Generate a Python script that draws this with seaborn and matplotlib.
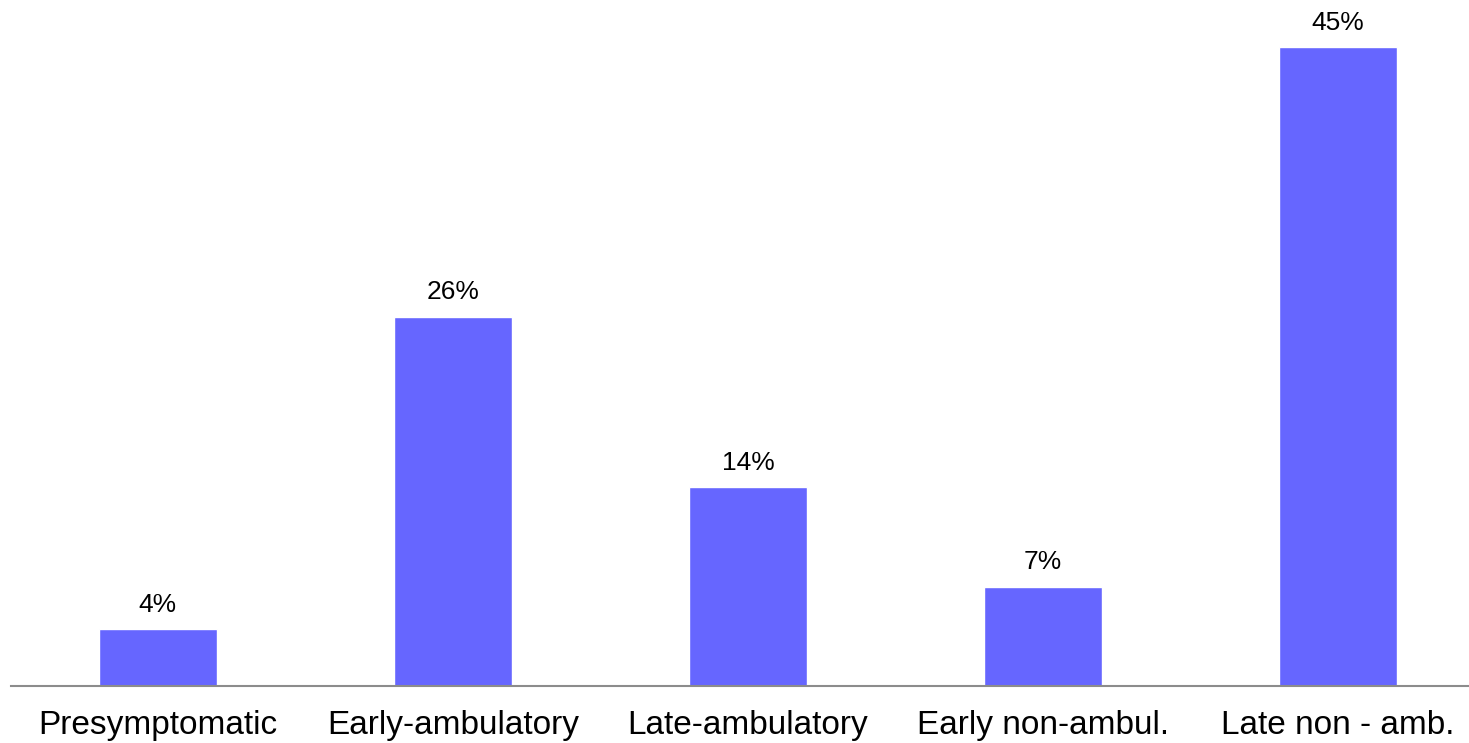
import matplotlib
matplotlib.use("Agg")
import matplotlib.pyplot as plt
import seaborn as sns
import pandas as pd

stages = ["Presymptomatic", "Early-ambulatory", "Late-ambulatory",
          "Early non-ambul.", "Late non - amb."]
shares = [4, 26, 14, 7, 45]

df = pd.DataFrame({"stage": stages, "share": shares})

sns.set_style("white")
plt.rcParams["font.family"] = ["Liberation Sans", "DejaVu Sans"]

fig = plt.figure(figsize=(14.69, 7.43), dpi=100)
ax = fig.add_axes([11 / 1469, 57 / 743, 1458 / 1469, 686 / 743])

sns.barplot(data=df, x="stage", y="share", color="#6666FF",
            saturation=1, width=0.4, ax=ax)

for p, v in zip(ax.patches, shares):
    ax.annotate(f"{v}%", (p.get_x() + p.get_width() / 2, p.get_height()),
                xytext=(0, 9), textcoords="offset points",
                ha="center", va="bottom", fontsize=19, color="#000000")

ax.set_xlim(-0.498, 4.444)
ax.set_ylim(0, 686 / 14.2)
ax.set_xlabel("")
ax.set_ylabel("")
ax.set_yticks([])
for side in ["top", "left", "right"]:
    ax.spines[side].set_visible(False)
ax.spines["bottom"].set_color("#8c8c8c")
ax.spines["bottom"].set_linewidth(1.5)
ax.tick_params(axis="x", length=0, pad=17, labelsize=24, colors="#000000")

fig.savefig("out.png", dpi=100)
